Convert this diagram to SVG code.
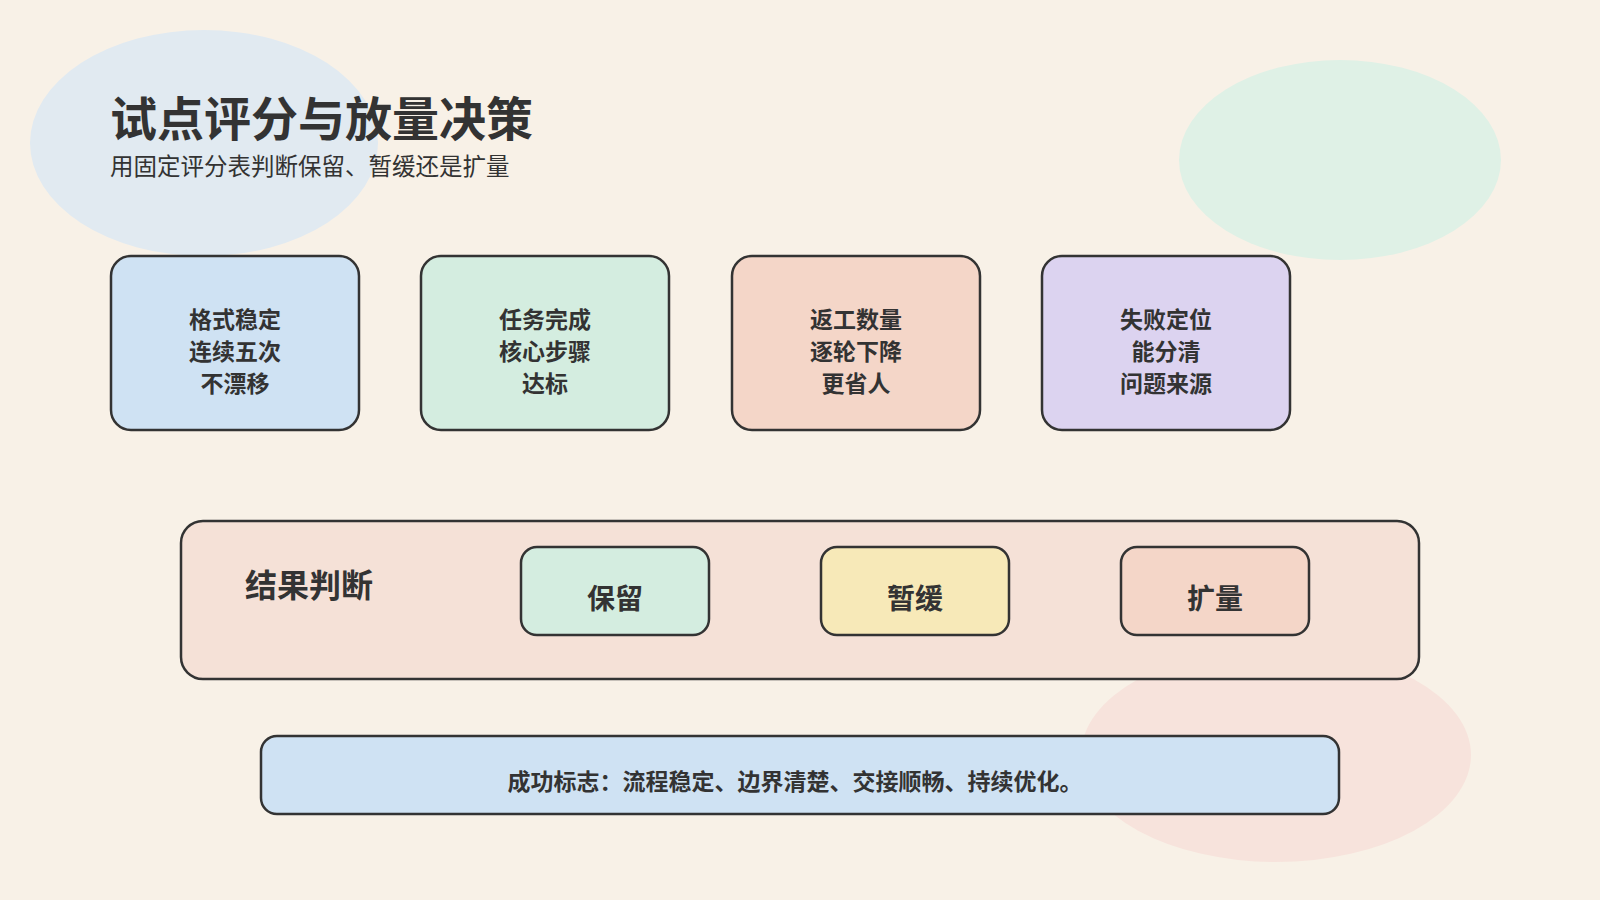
<svg xmlns="http://www.w3.org/2000/svg" width="1600" height="900" viewBox="0 0 1600 900">
<style>
.t{font-family:"Noto Sans CJK SC","Liberation Sans",sans-serif;fill:#333;font-weight:bold;text-anchor:middle;dominant-baseline:central}
.b{stroke:#333;stroke-width:2.5}
</style>
<rect width="1600" height="900" fill="#f8f1e7"/>
<ellipse cx="204" cy="143" rx="174" ry="113" fill="#e1eaf1"/>
<ellipse cx="1340" cy="160" rx="161" ry="100" fill="#dff1e6"/>
<ellipse cx="1276" cy="755" rx="195" ry="107" fill="#f7e3dc"/>
<text x="110" y="136" font-size="47" font-weight="bold" fill="#333" font-family="Noto Sans CJK SC,sans-serif">试点评分与放量决策</text>
<text x="110" y="175" font-size="23.5" fill="#333" font-family="Noto Sans CJK SC,sans-serif">用固定评分表判断保留、暂缓还是扩量</text>
<g id="card1"><rect class="b" x="111" y="256" width="248" height="174" rx="20" fill="#cfe2f3"/><text class="t" font-size="23"><tspan x="235" y="318">格式稳定</tspan><tspan x="235" y="350">连续五次</tspan><tspan x="235" y="382">不漂移</tspan></text></g>
<g id="card2"><rect class="b" x="421" y="256" width="248" height="174" rx="20" fill="#d4ede0"/><text class="t" font-size="23"><tspan x="545" y="318">任务完成</tspan><tspan x="545" y="350">核心步骤</tspan><tspan x="545" y="382">达标</tspan></text></g>
<g id="card3"><rect class="b" x="732" y="256" width="248" height="174" rx="20" fill="#f4d6c8"/><text class="t" font-size="23"><tspan x="856" y="318">返工数量</tspan><tspan x="856" y="350">逐轮下降</tspan><tspan x="856" y="382">更省人</tspan></text></g>
<g id="card4"><rect class="b" x="1042" y="256" width="248" height="174" rx="20" fill="#dcd3f0"/><text class="t" font-size="23"><tspan x="1166" y="318">失败定位</tspan><tspan x="1166" y="350">能分清</tspan><tspan x="1166" y="382">问题来源</tspan></text></g>
<g id="panel"><rect class="b" x="181" y="521" width="1238" height="158" rx="22" fill="#f5e1d7"/><text class="t" x="309" y="583" font-size="32">结果判断</text></g>
<g id="keep"><rect class="b" x="521" y="547" width="188" height="88" rx="16" fill="#d4ede0"/><text class="t" x="615" y="597" font-size="28">保留</text></g>
<g id="pause"><rect class="b" x="821" y="547" width="188" height="88" rx="16" fill="#f7e9b8"/><text class="t" x="915" y="597" font-size="28">暂缓</text></g>
<g id="expand"><rect class="b" x="1121" y="547" width="188" height="88" rx="16" fill="#f4d6c8"/><text class="t" x="1215" y="597" font-size="28">扩量</text></g>
<g id="footer"><rect class="b" x="261" y="736" width="1078" height="78" rx="16" fill="#cfe2f3"/><text class="t" x="795" y="780" font-size="23">成功标志：流程稳定、边界清楚、交接顺畅、持续优化。</text></g>
<g id="connectors"></g>
</svg>
